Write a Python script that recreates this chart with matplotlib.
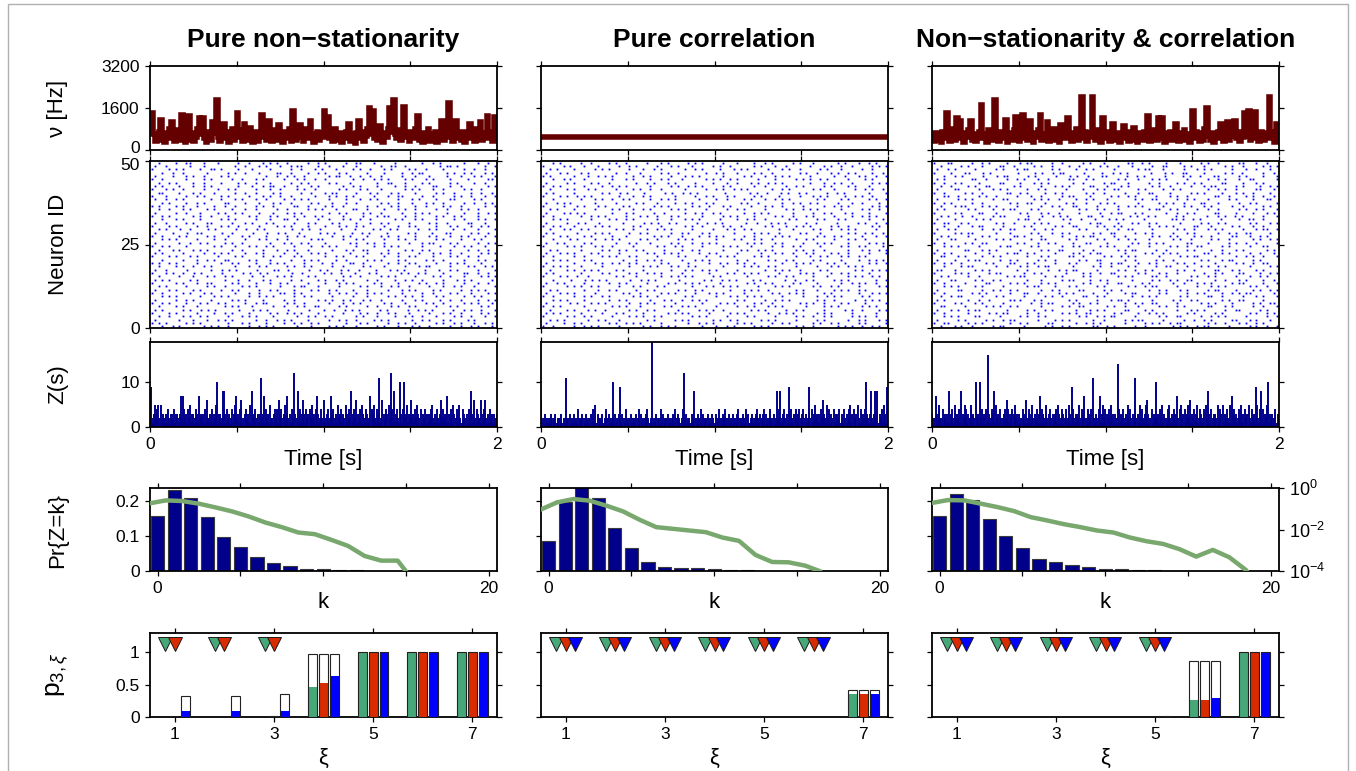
import matplotlib
matplotlib.use('Agg')
import matplotlib.pyplot as plt
import matplotlib.ticker as ticker
import matplotlib.transforms as mtransforms
import numpy as np

plt.rcParams['font.family'] = ['Liberation Sans', 'DejaVu Sans']
plt.rcParams['mathtext.fontset'] = 'custom'
plt.rcParams['mathtext.rm'] = 'Liberation Sans'
plt.rcParams['mathtext.it'] = 'Liberation Sans:italic'

W, H = 1356, 771
TICK_FS = 12.5
LABEL_FS = 16
TITLE_FS = 19

RATE_COL = '#650000'
Z_COL = '#00008b'
HIST_COL = '#00008b'
CURVE_COL = '#78a86e'
GREEN = '#46a878'
RED = '#d92b00'
BLUE = '#0000ff'

titles = ['Pure non\u2212stationarity', 'Pure correlation', 'Non\u2212stationarity & correlation']

# population rate (Hz), 200 steps of 10 ms over 2 s
rate_left = [1400, 1400, 600, 350, 500, 700, 1150, 400, 300, 650, 450, 800, 1050, 500, 350, 600, 750, 400, 1350, 550,
             300, 700, 1300, 400, 650, 350, 500, 800, 1200, 600, 1200, 450, 300, 700, 550, 400, 1050, 650, 1900, 500,
             350, 600, 1000, 450, 700, 300, 550, 800, 400, 650, 1400, 500, 750, 350, 1000, 600, 400, 850, 500, 300,
             450, 700, 350, 600, 1350, 500, 800, 400, 1100, 650, 350, 550, 750, 400, 950, 600, 300, 700, 500, 450,
             800, 350, 1500, 600, 400, 700, 950, 500, 350, 650, 800, 450, 1100, 600, 300, 550, 700, 400, 650, 500,
             1500, 700, 1250, 450, 600, 350, 800, 500, 400, 650, 300, 550, 450, 700, 1000, 350, 600, 500, 250, 650,
             1100, 450, 700, 350, 550, 800, 1600, 600, 1500, 450, 700, 400, 900, 550, 300, 650, 500, 800, 1600, 700,
             1900, 600, 450, 750, 400, 550, 1650, 500, 650, 350, 700, 450, 600, 800, 1300, 400, 550, 300, 650, 500,
             800, 350, 600, 450, 700, 300, 550, 650, 1100, 400, 700, 500, 1800, 600, 350, 750, 1100, 450, 600, 400,
             700, 300, 550, 650, 1000, 450, 600, 350, 800, 500, 1050, 400, 650, 550, 1300, 450, 700, 350, 1250, 600]
rate_mid = [500]
rate_right = [500, 350, 650, 400, 550, 300, 700, 450, 1400, 500, 350, 600, 800, 400, 1200, 550, 1100, 450, 300, 650,
              500, 750, 1100, 400, 600, 350, 550, 700, 1700, 450, 600, 300, 750, 500, 400, 650, 1900, 550, 350, 700,
              450, 600, 1150, 300, 650, 500, 400, 750, 1250, 550, 350, 600, 1350, 450, 700, 400, 1100, 550, 300, 650,
              500, 750, 1350, 400, 600, 450, 1050, 350, 650, 500, 800, 400, 550, 300, 950, 600, 450, 700, 1200, 500,
              350, 650, 500, 800, 400, 600, 2000, 450, 700, 350, 550, 650, 2000, 500, 400, 750, 600, 300, 1200, 550,
              450, 700, 350, 600, 1000, 500, 400, 650, 300, 550, 900, 450, 700, 350, 600, 500, 850, 400, 300, 650,
              550, 400, 700, 450, 1300, 350, 600, 500, 750, 400, 1200, 550, 1200, 450, 300, 650, 500, 700, 400, 600,
              1000, 450, 350, 650, 500, 750, 400, 600, 300, 550, 1500, 450, 700, 500, 350, 650, 400, 800, 1600, 550,
              400, 650, 300, 600, 450, 700, 1000, 500, 350, 650, 1050, 400, 550, 750, 1100, 450, 600, 350, 700, 500,
              1400, 550, 1500, 400, 650, 450, 1450, 600, 350, 700, 500, 400, 650, 550, 2000, 450, 700, 300, 1000, 600]

# spike rasters, neuron 50 at the top, 'o' = spike (2 s across each row)
raster_left = [
    "..o....o..oo...o...o.....o..o...o.o.o..o.....o..o.o.....o..oo...o.....o.......o..o.o......o...o..o..",
    ".o..o......o...o........o..o...o.o...o..o.oo....o..o...o...o......o..oo..o.........o.oo.o.......o..o",
    "o....o.o.o....o..oo.o....o...o....o.....o..o...o.o...o....o.o..o...o.o....o.o..o....o.....o..o..o...",
    "...o..o..o......o.....o.o..o...o....oo..o....o..o.o...o.o.....o....o....o..o.oo......o.o..o.o...o.o.",
    ".o....o...o.o..o....o.o..........o..o..o.o..o......o.oo..o..o..o..o.....o...o...o....o...o...o.o...o",
    "o..o......o....o.o.....o..o...o.o.....o...o.o..o..o.......o..o..o.o.o....o.o...o.o....o....o.....oo.",
    "..o..o.o....o..o....o....o.o..o...o.....o..o.o.....o.o...o.......o..oo...o....o.o.....o.o....o..o...",
    ".o.o....o...o..o.o.......o...o..o.oo..o...o...o.o......o..o.o....o....o..o..o....oo...o..o.......o.o",
    "o...o.o..o.....o...o..o.o.....o...o..o....o.o..o......o.o...o.o...o......o.o.o...o..o.....o.o..o....",
    "..oo....o...o.o...o.....o..o..o....o.o.....o..o...o.oo.....o...o.o...o.o....o.....o.o..o....o..o..o.",
    "o...o.....o..o.o....o.o.....o...o.o..o..o......o...o.o..o.o.....o...o..oo.....o..o.....o.o..o...o..o",
    ".o..o..o.o.......o..o...o.o...o..o....o..o.o.o.....o....o...o..o.o.....o...o.o....o...oo.....o.o....",
    "...o.o....o..o.o.....oo....o...o...o.o..o.....o.o...o...o..o......o.o..o...o...o.o..o.....o..o..o.o.",
    "o.o....o.o...o....o..o..o.....o.o..o.....oo..o....o.o..o......o..o...o.o....o..o....o.o..o......o..o",
    "..o..o...o.o....o.o....o...o..o.....o..o.....o.o.o...o....oo..o....o...o.o..o.....o..o...o.o..o.....",
    ".o.....o..o...o....o.o..o.o....o...o...o.o.o.......o..o.o....o.o..o.....o...o.o.o....o....o...o..o.o",
    "o..o.o......o.o..o....o.....o.o...o.o....o..o..o.o.....o.....o...o.oo....o..o.....o.o..o.o....o.....",
    "...o...o.o....o.....o.o.o.....o...o...oo..o.....o..o...o.o..o..o......o.o...o.o...o....o..o...o.o..o",
    ".o..o.....o.o...oo.....o...o.o...o.o.....o...o.o....o.o....o...o..o.o.....o.....o.o..o.....oo...o...",
    "o....o.o.....o..o...o.o..o.....o....o.o.o....o....o...o.o..o.o.....o...o..o.o.....o...o.o...o..o.o..",
    "..o.o...o..o....o.o.....o..o..o.o.......o..o.o..o.....o...o....o.o..o.o.....o..o.o....o..o...o....o",
    ".o....o...o..oo.....o..o.....o...o..o.o...o.....o.o.o....o..o.o....o.....o.o....o...oo.....o.o..o..",
    "o..o....o.o.....o.o...o...o.o....o.....o..o.o.......o..o.o....o...o.o..o....o...o.o...o..o.o....o..o",
    "...o.o.o.....o....o..o.....o...o.o..o..o......o.oo.....o...o.o.....o...o.o..o.....o.o....o...o.o....",
    ".o......o..o..o.o....o.o..o.......o...o.o..o.o....o......o.o..o.o..o......o...o.oo....o.o.....o..o.o",
    "o..o.o....o.......o.o...o...o.o..o.o.....o....o..o.o.o.....o....o..o.o.o......o....o...o..o.o...o...",
    "..o...o.o...o.o.o......o..o.....o...o..o.o...o......o...o.o..oo.....o....o.o..o.o.....o....o..o..o..",
    ".o.o.....o.....o..o.o.o....o..o.o.....o...o...o.o.o......o....o...o.o..o.....o...o.o..o..o.....o.o.o",
    "o....o.o...o.o.....o....o.o.....o..o.o...o.o......o..o.o...o.o.....o...o..o.o....o....o.o..o..o.....",
    "...o.....o...o..o.o..oo.....o.o...o.....o...o.o.o....o..o.....o.o.o....o.o.....o.o..o.....o...o.o..o",
    "o.o..o.o.....o......o..o.o....o...o.o.o.....o....o..o....oo..o......o..o..o.o.....o...o.o.o....o....",
    "..o....o.o..o..o.o......o...o..o.o.....o.o..o.o.....o..o.....o.o...o.....o...o.oo.....o....o.o..o.o.",
    ".o..o.....o......o..o.o.o.....o....oo..o.....o..o.o...o.o..o....o...o.o.o.....o...o..o.o.....o....o",
    "o...o.o..o..o.o.....o.....o.o..o.o......o..o.....o.o..o...o...o.o......o.o..o.o....o.....oo..o..o..",
    "..o.....o...o...o.o..o.o.....o..o...o.o.o....o.o.......o.o..o.....o.o.o.....o....o.o..o...o....o.o.o",
    ".o.o.o.....o.o.......o...o..o...o.o.....o..o....o.o..o.o......o..o....o..o.o..o.....o...o.o.o.....o.",
    "o......o.o...o..oo.....o.o....o...o..o.o.....o....o...o.o.o.....o.o....o.....o.o..o.o.....o...o..o..",
    "..o.o.....o.....o.o..o....o.o.o......o...o.oo...o.....o.....o.o...o..o.o..o.....o...o..o.o...o.....o",
    ".o...o.o....o.o.....o..o.o.....o..o.o....o....o.o..o.o....o...o.....o...o.o.o....o.o.....o..o.o.o...",
    "o..o.....o.o...o.o......o...o..o.....oo..o.o.......o..o.o..o..o.o.o.....o.....o..o....o.o...o....o.o",
    "...o.o.o......o...o.o.o.....o..o.o.o.....o..o.o.....o.....o...o.....o.o..o.o..o...o.o.....o..o.o....",
    ".o.....o..o.o....o.....o.o.o....o.....o..o......o.o.o..o.o...o.o..o.....o...o.o....o..o..o....o..o.o",
    "o..o.o....o...o.o..o.o.....o..o.oo.....o.o..o......o...o..o.o......o.o...o.....o.o..o.....o.o.o...o.",
    "..o....o.o...o.......o.o.o...o.....o..o...o.o..oo.....o.o.....o..o...o.o..o.o.....o...o.o......o.o..",
    ".o.o.....o.o..o.o.o......o...o.o.o.....o.....o...o..o..o.o.o.....o.o.....o..o.o.o.....o..o.o..o...o",
    "o....o.o.....o....o..o.o....o.....o.o..o.o.o....o......o....o.o..o..o.o...o.....o...o.o..o.....o.o..",
    "..o..o...o.o..o.o.....o...o.o.o....o......o..o.o..o.o......o.o...o....o..o.o..o...o....o.o..o...o..o",
    ".o......o...o...o..o.o.o......o..o..o.o.o....o.....o..o.o..o....o.o.o......o..o.o...o.o....o.o......",
    "o.o.o.....o.o.o.......o...o.o....o....o..o.o..o.o.......o...o.o.....o..o.o..o.....o.o..o.o...o..o.o.",
    "...o..o.o......o.o.o..o.....o..o.o.o......o...o....o.o.o...o.....o.o...o...o.o..o.....o..o..o.o...o.",
]
raster_mid = [
    "...o.o.....o..o....o.o..o.....o...o.o.....o.o.o.....o...o....o..o.o.....o.o...o......o.o...o..o.o...",
    "o.....o.o...o...o.....o..o.o.....o...o.o...o.....o.o..o......o.o...o..o......o...o.o..o..o.....o.o.o",
    "..o.o....o.....o.o.o.....o...o..o.o......o..o.o....o...o.o.o.....o...o.o..o.....o.o...o.....o..o....",
    ".o...o.o...o.o.......o..o...o.....o.o..o.......o..o.o...o....o.o..o.......o.o..o...o.o..o.o....o..o.",
    "o.o......o...o..o.o.o.....o..o.o.....o...o.o.o......o.....o.o...o..o.o.o.....o......o..o...o.o..o..o",
    "...o..o.o...o.......o...o.o....o..o.o...o......o.o.o..o.o.....o....o.....o.o.o..o.o.....o....o.o....",
    ".o.....o.o....o.o..o.......o..o.o...o.o.....o....o...o..o...o.o..o.o.o.......o...o..o.o..o.....o.o.o",
    "o..o.o......o....o..o.o.o......o.....o.o..o.o.o.....o.o......o..o.....o..o.o.....o.o....o.o...o.....",
    "..o....o.o...o.o.....o....o.o..o..o......o.....o..o.o..o.o.o......o..o.o......o.o...o.....o..o.o..o.",
    ".o.o.....o.......o.o..o.o....o.....o.o..o.o.o.......o......o.o..o...o.o..o.o.....o..o.o......o....o",
    "o....o.o..o.o.o.......o...o..o.o......o.....o..o.o...o.o.....o.o....o.....o...o.o.o....o..o.o..o....",
    "...o.......o...o.o..o..o.o.....o..o.o.o......o....o..o....o.o...o..o.o.o.......o.o....o.o.....o.o..o",
    ".o..o.o.o......o.....o.....o.o...o....o..o.o...o.o.......o.o..o......o..o.o..o.o.....o...o..o....o..",
    "o.....o...o.o...o.o....o.o......o.o.o......o.o..o...o.o.....o...o.o..o.....o.....o..o.o.o......o.o.o",
    "..o.o....o.....o....o.o...o..o.o.....o.o.o.....o.....o..o.o.....o.....o.o..o.o.o......o.....o.o..o..",
    ".o....o.o.o.o.......o...o.o.....o..o.....o..o.o..o.o......o..o.o.o......o.....o..o.o...o.o....o....o",
    "o..o.......o..o.o.o.....o...o.o..o...o.o......o.....o.o.o....o.....o.o..o...o.o.....o....o..o.o.o...",
    "...o.o.o......o....o.o..o.o......o...o...o.o.o.....o....o..o.o..o......o.o.....o.o...o.o......o...o.",
    ".o.....o..o.o...o......o.....o.o.o..o.o.....o..o.o.o......o..o...o.o.o.....o..o.....o.....o.o..o..o",
    "o..o.o...o.....o.o.o......o.o.....o......o.o..o.....o.o..o......o.o...o..o.o.o.....o.o..o......o.o..",
    "..o...o.o..o.o.......o.o..o...o..o.o.o.....o.....o...o.o..o.o.......o...o.....o.o..o..o.o.o.....o...",
    ".o.o......o....o.o.o.....o..o.o......o..o.o...o.o......o.....o.o.o..o.....o.o...o.......o.o..o.o..o.",
    "o....o.o....o.o.....o...o.......o.o.o...o....o..o.o.o.....o..o.....o.o.o.......o.o..o.o.....o...o..o",
    "...o....o.o....o..o.o.o.....o.o..o.....o.o.o......o....o.o...o.o..o......o..o.o.....o...o.o..o......",
    ".o..o.o.....o.o......o...o.o...o.....o.o...o..o.o.o........o.o.o...o.o.....o...o.o.o....o.....o.o.o.",
    "o......o.o.o...o.o..o.....o......o.o..o.o.....o.....o.o.o...o.....o..o..o.o.....o.....o.o..o.o....o.",
    "..o.o......o.....o.o..o.o..o.o.....o....o..o.o......o....o.o..o.o.o......o.o..o..o......o...o.o..o.o",
    ".o...o.o.o....o.o.....o.......o.o..o.o.o.....o..o.o.....o......o...o.o..o...o.o....o.o..o.....o....o",
    "o..o.....o..o....o.o.o...o.o.....o.....o.o.....o...o.o.o.....o.o.o.......o...o..o.o...o.o..o.o......",
    "...o.o.o....o.o........o...o..o.o.o.....o...o.o.o.......o..o.....o.o..o.o.....o.o.....o....o..o.o.o.",
    ".o.......o.....o.o..o.o..o.o......o.o.....o.....o..o.o..o.o..o.......o...o.o.o....o.o..o......o.o..o",
    "o..o.o.o...o.....o.......o...o.o.o...o.o..o.o.......o.....o.o.o..o.o.....o.....o...o.o..o.o.o.......",
    "..o....o.o..o.o.o....o.o.....o.......o...o.o..o.o.o.....o.......o..o.o.o..o.....o.o.......o.o..o.o.o",
    ".o.o.......o.....o.o.....o.o..o.o.o.....o.......o....o.o..o.o.o.....o.....o.o.o....o..o.o.....o.....",
    "o....o.o..o..o.......o.o...o......o..o.o.o.o.....o.o.......o.....o.o..o.o.....o...o.....o.o.o..o.o..",
    "...o....o...o.o.o.o......o..o.o.o......o......o.o..o.o.o....o.o......o..o..o.o.....o.o.o.......o..o",
    ".o..o.o.....o......o..o.o.....o.....o.o..o.o.o.....o.......o.o..o.o.....o.o....o......o..o.o.o..o...",
    "o......o.o.o..o.o.....o...o.o....o.o.......o...o.o..o.o.o.....o....o.o.o......o.o..o.o.....o.....o.o",
    "..o.o.......o...o..o.o.....o..o.o......o.o..o.o.......o...o.o.o..o.......o.o...o....o.o.o..o.o......",
    ".o...o.o.o.....o.......o.o..o.....o.o.o.....o...o.o.o.....o.......o.o..o.o.o.....o.o.......o...o.o.o",
    "o..o.....o..o.o..o.o......o.o.o..o.......o.o......o...o.o..o.o.o.....o.....o...o..o.o.o.....o.o.....",
    "...o.o.o....o......o..o.o......o...o.o..o..o.o.o........o.o.....o..o.o.o.......o.o..o.....o..o.o.o..",
    ".o......o.o...o.o.o......o..o.o.o.....o.......o....o.o.o.....o.o..o.......o.o.o..o....o.o....o.....o",
    "o..o.o......o.......o.o.o...o......o.o..o.o.o.....o.....o..o.o...o.o.o......o....o.o.o......o.o.o...",
    "..o....o.o...o.o..o......o.o..o.o......o.....o.o.o..o.......o.o.o.....o..o.o.....o.....o.o..o....o.o",
    ".o.o.o.....o.....o...o.o.....o......o.o.o.o.....o.....o.o.o......o..o.o.o......o.o.o.....o......o...",
    "o......o.o..o.o.....o....o.o.o..o.o........o.o.o.....o.....o.o.....o.....o.o..o..o.o.....o.o.o..o...",
    "..o.o.o......o..o.o...o.......o.o.....o.o.o......o.o..o.o......o.o.o.....o.....o.o......o..o.o...o.o",
    ".o....o..o.o.......o.o..o.o.o.....o.......o..o.o.o......o.o.o.....o..o.o......o.o..o.o.....o.o.....o",
    "o..o.....o..o.o.o.....o......o.o..o.o.o.......o...o..o.o.....o.o.o.......o.o..o......o.o.o..o..o.o..",
]
raster_right = [
    "o...oo.....o..o.o....o...o.oo.....o..o.....o.o...o......oo..o.o....o...o.....o.o..o.....oo...o..o...",
    "..o.....o.o...o....oo..o.....o.o..o....o..o.....o.o..o...o.....o..oo....o.o...o.....o.o..o.....o.o.o",
    ".o..o.o.....o.....o.o...o.oo......o.o....o..o.o.....o......o.oo...o.....o...o.o.o.....o...o..o...o..",
    "o....o...oo...o.o.......o....o.o..o.oo.....o....o..o.o.o......o...o.o..oo....o.....o.o..o.....o..o.",
    "...o..o.o.....o...o.oo.....o.o.....o...o.o..o...oo.....o..o.o.....o....o.o..o...oo.....o.o....o...o",
    ".o.o.......oo..o.....o..o.o...o..o.....oo...o.o......o.o...o...o.o.o.....o.....o..o.o...o..oo......o",
    "o..o..o.o....o.....oo....o...o.o.o......o..o.....o.oo...o.....o..o....o.o..o.o.....oo....o...o.o....",
    "..o..o....o.o..oo......o.o.....o...o.o.o.....oo...o...o.o......o.o..o.....o...o.oo.....o.o....o..o.o",
    ".o....oo.....o...o.o.o.....o..o.o.....o....o...o.o..oo.....o.o....o..o.o.......o..o.o..o.....oo...o.",
    "o..o.....o.o..o......oo..o.o....o..o.o......o.o..o.....o...o..oo....o.....o.o.o....o...o.o..o....o..",
    "...oo..o.....o.o..o.....o...o..o.....o.oo....o.....o.o..o.o.....o...o.o..o.......oo..o....o.o..o..o.",
    ".o.....o.o.o.....o..oo.......o.o.o..o....o..o.o...o.......o.o..oo.....o..o.o...o.....o.o....o...oo..",
    "o..o.o.....o..o.......o.o..oo...o.....o.o...o...o.o.o......o.....o.o.o..o....oo...o.....o..o.o.....o",
    "..o...o.oo....o.o.o.....o......o..o.o...oo.....o.....o..o.o.o.....o.....o.o...o.o.....o..o.....o.o..",
    ".o.o......o.o....o..o.oo....o.o......o....o.o..o.o...o........o.oo..o.o.....o..o..o.....o.o..o.o...o",
    "o.....o.o....oo...o......o.o...o.o..o.....o.....o..o.oo...o.o......o..o..o.o.....oo....o....o...o.o.",
    "..o.o...o..o.....o.oo......o...o..o.o.o.....oo..o.......o.o..o.o.....o.o......o..o.o..o.o.....o...o",
    ".o....o.....o.o.o.......o.oo..o......o.o..o...o...o.o.o.....o.......oo.o..o.o.....o....o..oo..o....",
    "o..oo...o.o.......o.o..o.....o.o.o.....o.....o.oo....o...o.o..o.o......o.....o.o..o.o......o.o...o.o",
    "...o...o...o.oo.....o.....o.o......o.o..oo.....o.o..o.o.......o..o.o.o.....oo...o.....o.o...o..o....",
    ".o..o.o.......o..o.o..oo.....o..o.o.......o.o.....o..o..oo.....o......o.o..o...o.o.o.....o...o.oo..o",
    "o.....o.o.oo......o...o.....o.o...o..o.o......o.o..oo.....o..o.o.....o...o.o......o..o.o..oo.....o..",
    "..o.o.....o...o.o......oo.o....o.....o...o.o.oo.....o..o.......o.o..o.o....o.o..o.....oo...o..o.o...",
    ".o...oo.....o.....o.o.o.....o..oo......o.o.....o.o...o..o.o...o......o.o..o.....o.o..o......o.o..o.o",
    "o..o.....o.o..oo........o.o...o..o.o....o...oo....o......o.o..o.o.o......oo....o.....o.o..o..o.....o",
    "...o.o.o.....o.....o.oo.....o.o......o..o.o.....o.o.o...o.....o.....o.o..o..oo.....o.o.....o...oo...",
    ".o.......oo...o.o.o......o.....o.o..oo.....o..o......o.o.oo.....o..o.....o.o....o..o...o.o......o.o.",
    "o..o.o......o...o....o.oo..o.o.....o....o.o..o.oo......o.....o.o..o.o.o.......oo...o.o.....o..o...o.",
    "..oo...o.o....o..o.o.......o...o.o.....oo..o.....o.o..o.o.o......o.....o.o.oo....o.....o..o.o..o...o",
    ".o....o...o.oo.....o..o.o.....o.o..o......o.o..oo......o..o.....o.o..o.......o.o...o.oo.....o.o.....",
    "o..o.o..o......o.o....oo...o.o.....o...o.o......o..o.oo....o..o.o.....o.o..o.....o.....o.o..o..oo...",
    "...o....o.oo......o..o...o.o..o.oo......o.....o.o..o....o.o.....o..oo....o...o.o..o.o......o.....o.o",
    ".oo...o.....o.o.o.......o..o.....o..o.o.oo.....o.....o.o..o..o.o......o.o..o.....oo...o.o....o.o....",
    "o.....o.o.o.....o.oo......o..o.o......o....o.o..o..oo......o.o...o.o..o.......o..o.o....oo....o..o.o",
    "..o.o.....o..o.......o.o.oo.....o..o.o.....o.o.......o.o.o.....oo..o......o.o..o.o.....o...o..o.o...",
    ".o...oo.....o.o..o.o.......o...o.....o.oo....o..o.o......o.....o.o..o.o..oo......o..o...o.o....o..o.",
    "o..o.....o.....oo.....o.o.o....o.o.o.......o.o....o..oo.....o.o......o..o...o.o.o.....o.oo.....o...o",
    "...o.o.o....o.o.....o......o.oo....o...o.o.....o.o......o.o..o.oo.....o.....o...o.o.o......o.o..o...",
    ".o.....oo.....o..o.o..o.o......o..o.o.....oo.....o.o..o.......o..o.o...o.o.....o.oo....o....o.o..o.o",
    "o..o.......o.o.o......o...oo..o.....o.o.o.....o...o....o.oo......o.o.....o..o.o....o..o.o.oo......o.",
    "..o..o.oo.....o...o.o.....o.....o.o..o.....oo..o.o.......o..o.o.o......o.o.....oo..o.....o...o.o...o",
    ".o.o......o..o..o.....oo.o...o.o.......o.o.....o...o.oo.o......o.....o.o..o.o......o.o..oo.....o....",
    "o.....o.o...o.o.....o.......o..o.oo.....o.o..o.o.......o..o.o..oo.....o......o.o.o....o.....o.o..oo.",
    "..oo.....o.....o.o.o..o.o......o.....o.o..oo......o.o..o...o.....o.o..o.o......oo...o.o.....o..o...o",
    ".o...o.o..o.oo.......o.....o.o..o.o......o...o.o.o.....oo....o.o......o...o.o.o.....o..oo.....o.o...",
    "o..o......o.....o.o.oo.....o..o......o.o.o..oo......o.o....o..o.o.o......o.o.....o.o.......o.o..o.o.",
    "...o.o.o....oo.....o.....o.o..o.o.........o.o..o.o.oo.....o......o.o..oo.....o..o.o.o.....o.....o..o",
    ".o.....o.o.....o.o..o.oo......o....o.o.o......o..o.....o.o.oo.....o.....o..o..o.o.....oo...o.o...o..",
    "o..oo.....o.o.o.......o..o.o.....oo......o..o.o.o......o.....o.o.o..o.oo.......o.o..o...o.o..o.o....",
    "..o...o.o..o.....o.oo.....o.....o.o..o.o......oo..o.o.....o..o.......o.o.o..o.oo.....o.....o.o..o..o",
]

# synchrony count Z(s) in 400 bins of 5 ms, one character per bin (base 36)
z_left = ("2921353415" "2051322131" "4201332413" "1302372714" "2314025133"
          "1240317232" "0314162213" "2413025a13" "3120883142" "1302413257"
          "2314601203" "4213051823" "14023132b1" "3714203152" "2031424163"
          "1420351372" "03142c1302" "8241036314" "2130425213" "1473120421"
          "6213041273" "1402315230" "4132051324" "2803142613" "0241532104"
          "3127041352" "142b312603" "2413052c14" "28134210a3" "14a2035132"
          "6203142531" "2041321403" "1324052131" "4201362413" "2171304215"
          "3024135201" "4132031425" "8316204132" "2613406213" "1402313213")
z_mid = ("6120312102" "1320213012" "20131021b2" "1203121031" "2140212302"
         "1302120314" "2151032120" "3102412031" "21a2031203" "9213021402"
         "1203120213" "0214031202" "3142012j10" "2130212041" "3021203121"
         "2031402132" "1024c20312" "2103128021" "3120413021" "2031201320"
         "1302140213" "2041203121" "0312031402" "2130214031" "1203121304"
         "2130231403" "1204312031" "2182482031" "4203193142" "1304213402"
         "3142031249" "2041352131" "3142603215" "2041320413" "1324102314"
         "2031425130" "4213052143" "1324a31203" "8213824801" "3204153196")
z_right = ("3120731452" "2041320318" "1304215230" "2418031524" "1302451320"
           "a2130a2413" "2041g31204" "3815203142" "0231426413" "2140352031"
           "3120413061" "2403152031" "4213714032" "1520314203" "2314053124"
           "1302412053" "1942031325" "2041370214" "31240b2031" "2047130524"
           "1302415230" "3120e41302" "4213052142" "0314b20315" "2402135613"
           "12041320a2" "3142051302" "1405213024" "3172041523" "0413252613"
           "2041351240" "3124052083" "1402313205" "2413051324" "0215173042"
           "3124025130" "4213052142" "0319512048" "2413025a13" "2031240132")

# Pr{Z=k}, bars for k = 0, 1, 2, ...
hist_left = [0.157, 0.231, 0.208, 0.154, 0.097, 0.067, 0.039, 0.023, 0.013, 0.007, 0.006, 0.004, 0.002, 0.001]
hist_mid = [0.086, 0.196, 0.250, 0.207, 0.123, 0.064, 0.025, 0.011, 0.009, 0.008, 0.007, 0.004, 0.003, 0.001]
hist_right = [0.157, 0.218, 0.201, 0.147, 0.099, 0.065, 0.034, 0.025, 0.017, 0.011, 0.007, 0.006, 0.003, 0.002, 0.001]
# same distribution on log scale, drawn at k - 0.5
curve_left = [0.181, 0.253, 0.235, 0.175, 0.116, 0.0743, 0.0426, 0.0218, 0.0130, 0.00716,
              0.00594, 0.00316, 0.00162, 0.000532, 0.000316, 0.000316, 0.00003]
curve_mid = [0.0895, 0.202, 0.294, 0.244, 0.140, 0.0743, 0.0294, 0.0130, 0.0108, 0.00895,
             0.00743, 0.0041, 0.00283, 0.000594, 0.000272, 0.000262, 0.000181, 0.00009]
curve_right = [0.188, 0.262, 0.253, 0.175, 0.120, 0.0771, 0.0395, 0.0272, 0.0181, 0.0130,
               0.00895, 0.00716, 0.0041, 0.00272, 0.00202, 0.00112, 0.000494, 0.00104,
               0.000458, 0.000112, 0.00001]

# p_{3,xi}: xi = 1..7, rows = green / red / blue method
xi = [1, 2, 3, 4, 5, 6, 7]
outer_left = [[0, 0, 0, 0.97, 1, 1, 1],
              [0, 0, 0.012, 0.97, 1, 1, 1],
              [0.32, 0.32, 0.35, 0.97, 1, 1, 1]]
fill_left = [[0, 0, 0, 0.47, 1, 1, 1],
             [0, 0, 0, 0.53, 1, 1, 1],
             [0.09, 0.09, 0.09, 0.64, 1, 1, 1]]
marks_left = [[1, 1, 1, 0, 0, 0, 0],
              [1, 1, 1, 0, 0, 0, 0],
              [0, 0, 0, 0, 0, 0, 0]]
outer_mid = [[0, 0, 0, 0, 0, 0, 0.42],
             [0, 0, 0, 0, 0, 0, 0.42],
             [0, 0, 0, 0, 0, 0, 0.42]]
fill_mid = [[0, 0, 0, 0, 0, 0, 0.36],
            [0, 0, 0, 0, 0, 0, 0.36],
            [0, 0, 0, 0, 0, 0, 0.36]]
marks_mid = [[1, 1, 1, 1, 1, 1, 0],
             [1, 1, 1, 1, 1, 1, 0],
             [1, 1, 1, 1, 1, 1, 0]]
outer_right = [[0, 0, 0, 0, 0, 0.87, 1],
               [0, 0, 0, 0, 0, 0.87, 1],
               [0, 0, 0, 0, 0.012, 0.87, 1]]
fill_right = [[0, 0, 0, 0, 0, 0.27, 1],
              [0, 0, 0, 0, 0, 0.27, 1],
              [0, 0, 0, 0, 0, 0.30, 1]]
marks_right = [[1, 1, 1, 1, 1, 0, 0],
               [1, 1, 1, 1, 1, 0, 0],
               [1, 1, 1, 1, 1, 0, 0]]

COLS = [150, 541, 932]
COL_W = 347
ROWS = {
    'rate': (66, 150),
    'raster': (161, 328),
    'z': (342, 427),
    'hist': (488, 571),
    'pxi': (633, 717),
}


def add_ax(fig, col, row):
    top, bot = ROWS[row]
    ax = fig.add_axes([COLS[col] / W, 1 - bot / H, COL_W / W, (bot - top) / H])
    for s in ax.spines.values():
        s.set_linewidth(1.3)
    ax.tick_params(direction='out', length=3.5, width=0.9, labelsize=TICK_FS,
                   top=True, right=True, pad=4)
    return ax


def nudge(label, dy_px):
    # shift a tick label vertically by a few pixels
    label.set_transform(label.get_transform() +
                        mtransforms.ScaledTranslation(0, dy_px / 100, fig.dpi_scale_trans))


def time_axis(ax, labels):
    ax.set_xlim(0, 2)
    ax.set_xticks([0, 0.5, 1, 1.5, 2])
    if labels:
        ax.set_xticklabels(['0', '', '', '', '2'])
    else:
        ax.set_xticklabels([])


def draw_rate(ax, vals, col):
    edges = np.linspace(0, 2, len(vals) + 1)
    ax.stairs(vals, edges, baseline=None, color=RATE_COL, lw=4)
    ax.set_ylim(0, 3200)
    ax.set_yticks([0, 1600, 3200])
    if col > 0:
        ax.set_yticklabels([])
    else:
        nudge(ax.get_yticklabels()[0], 3)
    time_axis(ax, False)


def draw_raster(ax, rows, col):
    xs, ys = [], []
    n = len(rows)
    for i, row in enumerate(rows):
        for j, c in enumerate(row):
            if c == 'o':
                xs.append((j + 0.5) / len(row) * 2)
                ys.append(n - i - 0.5)
    ax.plot(xs, ys, 's', ms=1.3, mew=0, color=BLUE)
    ax.set_ylim(0, 50)
    ax.set_yticks([0, 25, 50])
    if col > 0:
        ax.set_yticklabels([])
    else:
        nudge(ax.get_yticklabels()[-1], -3)
    time_axis(ax, False)


def draw_z(ax, chars, col):
    z = np.array([int(c, 36) for c in chars])
    t = (np.arange(len(z)) + 0.5) * 2 / len(z)
    ax.vlines(t, 0, z, color=Z_COL, lw=1.4)
    ax.set_ylim(0, 19)
    ax.set_yticks([0, 10])
    if col > 0:
        ax.set_yticklabels([])
    time_axis(ax, True)


def draw_hist(ax, bars, curve, col):
    k = np.arange(len(bars))
    ax.bar(k, bars, width=0.8, color=HIST_COL, edgecolor='#3a3a3a', lw=0.8, zorder=2)
    ax.set_xlim(-0.46, 20.5)
    ax.set_ylim(0, 0.236)
    ax.set_xticks([0, 5, 10, 15, 20])
    ax.set_xticklabels(['0', '', '', '', '20'])
    ax.set_yticks([0, 0.1, 0.2])
    ax.set_yticklabels(['0', '0.1', '0.2'] if col == 0 else [])
    ax2 = ax.twinx()
    ax2.set_yscale('log')
    kc = np.arange(len(curve)) - 0.5
    ax2.plot(kc, curve, color=CURVE_COL, lw=3.2, solid_capstyle='butt')
    ax2.set_ylim(1e-4, 1)
    ax2.set_xlim(-0.46, 20.5)
    ax2.yaxis.set_minor_locator(ticker.NullLocator())
    for s in ax2.spines.values():
        s.set_visible(False)
    if col == 2:
        ax.tick_params(right=False)
        ax2.set_yticks([1e-4, 1e-2, 1])
        ax2.yaxis.set_major_formatter(ticker.LogFormatterMathtext())
        ax2.tick_params(direction='out', length=3.5, width=0.9, labelsize=TICK_FS + 0.5, pad=4)
    else:
        ax2.set_yticks([])


def draw_pxi(ax, outer, fill, marks, col):
    colors = [GREEN, RED, BLUE]
    bar_off = [-0.22, 0.0, 0.22]
    mark_off = [-0.19, 0.0, 0.18]
    x = np.array(xi, dtype=float)
    for m in range(3):
        ax.bar(x + bar_off[m], outer[m], width=0.18, color='white', edgecolor='none', zorder=2)
        ax.bar(x + bar_off[m], fill[m], width=0.18, color=colors[m], edgecolor='none', zorder=3)
        ax.bar(x + bar_off[m], outer[m], width=0.18, fill=False, edgecolor='#222222', lw=0.8, zorder=4)
    for m in range(3):
        mx = [xx + mark_off[m] for xx, f in zip(xi, marks[m]) if f]
        ax.plot(mx, [1.13] * len(mx), 'v', ms=9.5, color=colors[m], mec='#1a1a1a', mew=0.7,
                ls='none', zorder=5 + m)
    ax.set_xlim(0.5, 7.5)
    ax.set_ylim(0, 1.3)
    ax.set_xticks([1, 3, 5, 7])
    ax.set_yticks([0, 0.5, 1])
    ax.set_yticklabels(['0', '0.5', '1'] if col == 0 else [])


fig = plt.figure(figsize=(W / 100, H / 100), dpi=100)

rates = [rate_left, rate_mid, rate_right]
rasters = [raster_left, raster_mid, raster_right]
zs = [z_left, z_mid, z_right]
hists = [hist_left, hist_mid, hist_right]
curves = [curve_left, curve_mid, curve_right]
outers = [outer_left, outer_mid, outer_right]
fills = [fill_left, fill_mid, fill_right]
marks = [marks_left, marks_mid, marks_right]

for c in range(3):
    draw_rate(add_ax(fig, c, 'rate'), rates[c], c)
    draw_raster(add_ax(fig, c, 'raster'), rasters[c], c)
    draw_z(add_ax(fig, c, 'z'), zs[c], c)
    draw_hist(add_ax(fig, c, 'hist'), hists[c], curves[c], c)
    draw_pxi(add_ax(fig, c, 'pxi'), outers[c], fills[c], marks[c], c)

    cx = (COLS[c] + COL_W / 2) / W
    fig.text(cx, 1 - 40 / H, titles[c], ha='center', va='center',
             fontsize=TITLE_FS, fontweight='bold')
    fig.text(cx, 1 - 460 / H, 'Time [s]', ha='center', va='center', fontsize=LABEL_FS)
    fig.text(cx, 1 - 603 / H, 'k', ha='center', va='center', fontsize=LABEL_FS)
    fig.text(cx, 1 - 758 / H, '\u03be', ha='center', va='center', fontsize=LABEL_FS)

ylabels = [('\u03bd [Hz]', 108, LABEL_FS), ('Neuron ID', 244, LABEL_FS), ('Z(s)', 384, LABEL_FS),
           ('Pr{Z=k}', 530, LABEL_FS), ('$\\mathrm{p}_{3,\\xi}$', 675, LABEL_FS + 3)]
for text, yc, fs in ylabels:
    fig.text(58 / W, 1 - yc / H, text, rotation=90, ha='center', va='center',
             fontsize=fs)

# light frame around the figure
fig.add_artist(plt.Rectangle((8 / W, -0.01), 1340 / W, 1 - 4 / H + 0.01,
                             transform=fig.transFigure, fill=False,
                             edgecolor='#b0b0b0', lw=1))

fig.savefig('out.png', dpi=100)
